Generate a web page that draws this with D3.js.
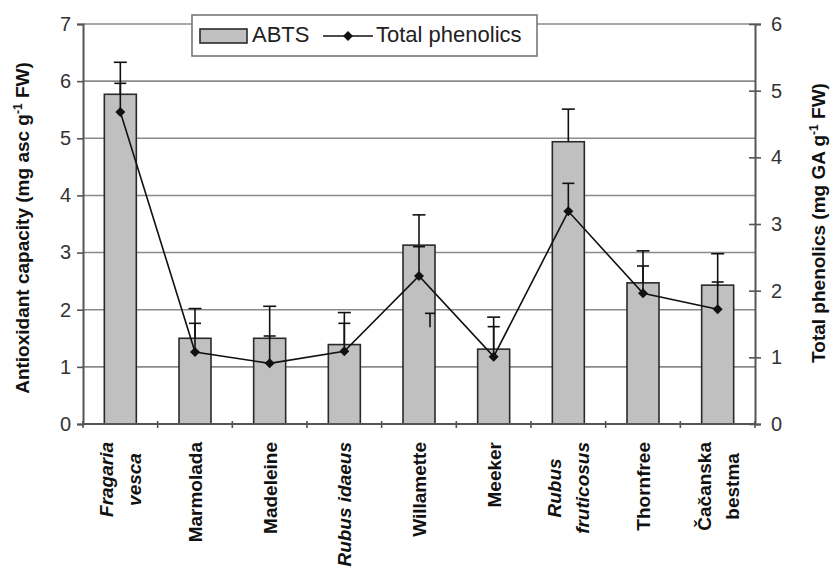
<!DOCTYPE html>
<html><head><meta charset="utf-8">
<script src="https://cdnjs.cloudflare.com/ajax/libs/d3/7.8.5/d3.min.js"></script>
<style>body{margin:0;background:#fff}svg{display:block}text{font-family:"Liberation Sans",Arial,sans-serif}</style>
</head><body>
<script>
const categories = ["Fragaria|vesca","Marmolada","Madeleine","Rubus idaeus","Willamette","Meeker","Rubus|fruticosus","Thornfree","Čačanska|bestma"];
const italicCats = ["Fragaria|vesca","Rubus idaeus","Rubus|fruticosus"];
const abts = [5.77,1.50,1.50,1.39,3.13,1.31,4.94,2.47,2.43];
const abtsErr = [0.56,0.52,0.56,0.56,0.53,0.56,0.57,0.56,0.55];
const phenolics = [4.68,1.08,0.91,1.09,2.22,1.01,3.19,1.96,1.72];
const phenolicsErr = [0.43,0.43,0.41,0.42,0.44,0.45,0.42,0.41,0.41];
const leftTicks = [0,1,2,3,4,5,6,7];
const rightTicks = [0,1,2,3,4,5,6];
const strayCap = [{cat:"Willamette", top:1.66, bottom:1.45}];

const W=832,H=567;
const svg=d3.select("body").append("svg").attr("width",W).attr("height",H);
const x0=83,x1=755,yTop=24,yBot=424;
const x=d3.scaleBand().domain(categories).range([x0,x1]);
const yL=d3.scaleLinear().domain([0,7]).range([yBot,yTop]);
const yR=d3.scaleLinear().domain([0,6]).range([yBot,yTop]);
const cx=c=>x(c)+x.bandwidth()/2;
const barW=32;

// gridlines
svg.append("g").selectAll("line").data(leftTicks.filter(d=>d>0)).join("line")
  .attr("x1",x0).attr("x2",x1).attr("y1",d=>yL(d)).attr("y2",d=>yL(d))
  .attr("stroke","#8a8a8a").attr("stroke-width",1.6);

// bars
svg.append("g").selectAll("rect").data(categories).join("rect")
  .attr("x",(c)=>cx(c)-barW/2).attr("width",barW)
  .attr("y",(c,i)=>yL(abts[i])).attr("height",(c,i)=>yBot-yL(abts[i]))
  .attr("fill","#c0c0c0").attr("stroke","#2a2a2a").attr("stroke-width",1.6);

// error bars
const eb=svg.append("g").attr("stroke","#111").attr("stroke-width",1.6);
categories.forEach((c,i)=>{
  const top=yL(abts[i]+abtsErr[i]);
  eb.append("line").attr("x1",cx(c)).attr("x2",cx(c)).attr("y1",yL(abts[i])).attr("y2",top);
  eb.append("line").attr("x1",cx(c)-6.5).attr("x2",cx(c)+6.5).attr("y1",top).attr("y2",top);
  const pt=yR(phenolics[i]+phenolicsErr[i]);
  eb.append("line").attr("x1",cx(c)).attr("x2",cx(c)).attr("y1",yR(phenolics[i])).attr("y2",pt);
  eb.append("line").attr("x1",cx(c)-6).attr("x2",cx(c)+6).attr("y1",pt).attr("y2",pt);
});
strayCap.forEach(s=>{
  const sx=cx(s.cat)+11;
  eb.append("line").attr("x1",sx-5).attr("x2",sx+5).attr("y1",yR(s.top)).attr("y2",yR(s.top));
  eb.append("line").attr("x1",sx).attr("x2",sx).attr("y1",yR(s.top)).attr("y2",yR(s.bottom));
});

// phenolics line
const line=d3.line().x((d,i)=>cx(categories[i])).y(d=>yR(d));
svg.append("path").datum(phenolics).attr("d",line).attr("fill","none").attr("stroke","#111").attr("stroke-width",1.6);
const diamond=d3.symbol().type(d3.symbolDiamond2).size(64);
svg.append("g").selectAll("path").data(phenolics).join("path")
  .attr("d",diamond).attr("transform",(d,i)=>`translate(${cx(categories[i])},${yR(d)})`)
  .attr("fill","#111");

// axes
const axCol="#555";
const gL=svg.append("g").attr("transform",`translate(${x0},0)`)
  .call(d3.axisLeft(yL).tickValues(leftTicks).tickSize(6).tickPadding(6).tickFormat(d3.format("d")));
const gR=svg.append("g").attr("transform",`translate(${x1},0)`)
  .call(d3.axisRight(yR).tickValues(rightTicks).tickSize(6).tickPadding(10).tickFormat(d3.format("d")));
[gL,gR].forEach(g=>{
  g.select(".domain").attr("stroke",axCol).attr("stroke-width",2);
  g.selectAll(".tick line").attr("stroke",axCol).attr("stroke-width",1.6);
  g.selectAll("text").attr("font-size",20).attr("fill","#333").attr("font-family","Liberation Sans, Arial, sans-serif");
});
gR.selectAll(".tick line").attr("x1",-6);
// x axis
svg.append("line").attr("x1",x0).attr("x2",x1).attr("y1",yBot).attr("y2",yBot).attr("stroke",axCol).attr("stroke-width",2);
const bounds=categories.map(c=>x(c)).concat([x1]);
svg.append("g").selectAll("line").data(bounds).join("line")
  .attr("x1",d=>d).attr("x2",d=>d).attr("y1",yBot-3).attr("y2",yBot+4).attr("stroke",axCol).attr("stroke-width",1.6);

// category labels
const lblTop=442, lineGap=28;
categories.forEach(c=>{
  const lines=c.split("|");
  const it=italicCats.includes(c);
  const g=svg.append("g");
  const texts=lines.map((l,k)=>g.append("text").text(l)
    .attr("font-size",19).attr("font-weight","bold").attr("font-style",it?"italic":"normal")
    .attr("fill","#111").attr("text-anchor","middle"));
  const maxLen=d3.max(texts,t=>t.node().getComputedTextLength());
  const yc=lblTop+maxLen/2;
  const n=lines.length;
  texts.forEach((t,k)=>{
    const bx=cx(c)+(k-(n-1)/2)*lineGap+7;
    t.attr("transform",`translate(${bx},${yc}) rotate(-90)`);
  });
});

// axis titles
const tl=svg.append("text").attr("transform","translate(29,228) rotate(-90)").attr("text-anchor","middle")
  .attr("font-size",19).attr("font-weight","bold").attr("fill","#111");
tl.append("tspan").text("Antioxidant capacity (mg asc g");
tl.append("tspan").text("-1").attr("font-size",12).attr("baseline-shift","super");
tl.append("tspan").text(" FW)");
const tr=svg.append("text").attr("transform","translate(825,223) rotate(-90)").attr("text-anchor","middle")
  .attr("font-size",19).attr("font-weight","bold").attr("fill","#111");
tr.append("tspan").text("Total phenolics (mg GA g");
tr.append("tspan").text("-1").attr("font-size",12).attr("baseline-shift","super");
tr.append("tspan").text(" FW)");

// legend
const lg=svg.append("g");
lg.append("rect").attr("x",192).attr("y",15).attr("width",345).attr("height",41).attr("fill","#fff").attr("stroke","#777").attr("stroke-width",1.6);
lg.append("rect").attr("x",200).attr("y",29).attr("width",47).attr("height",14).attr("fill","#c0c0c0").attr("stroke","#2a2a2a").attr("stroke-width",1.6);
lg.append("text").attr("x",252).attr("y",42).text("ABTS").attr("font-size",22).attr("fill","#222");
lg.append("line").attr("x1",323).attr("x2",373).attr("y1",36).attr("y2",36).attr("stroke","#111").attr("stroke-width",1.6);
lg.append("path").attr("d",diamond).attr("transform","translate(348,36)").attr("fill","#111");
lg.append("text").attr("x",376).attr("y",42).text("Total phenolics").attr("font-size",22).attr("fill","#222");
</script>
</body></html>
